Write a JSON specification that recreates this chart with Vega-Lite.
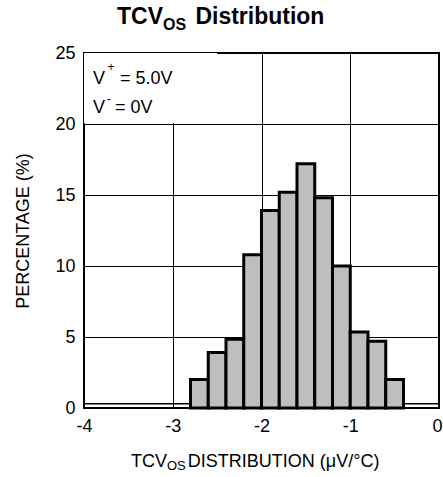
{
  "$schema": "https://vega.github.io/schema/vega-lite/v6.json",
  "width": 355,
  "height": 355,
  "autosize": {"type": "none"},
  "padding": {"left": 84, "top": 53, "right": 4, "bottom": 69},
  "background": "white",
  "config": {
    "font": "Liberation Sans",
    "view": {"stroke": "black", "strokeWidth": 2},
    "axis": {
      "grid": true,
      "gridColor": "black",
      "gridWidth": 1,
      "gridOpacity": 1,
      "domain": false,
      "ticks": false,
      "tickSize": 0,
      "labelFont": "Liberation Sans",
      "labelFontSize": 18,
      "labelColor": "black",
      "titleFont": "Liberation Sans",
      "titleFontSize": 18,
      "titleFontWeight": "normal",
      "titleColor": "black"
    }
  },
  "datasets": {
    "bins": [
      {"start": -2.8, "end": -2.6, "pct": 2.0},
      {"start": -2.6, "end": -2.4, "pct": 3.9},
      {"start": -2.4, "end": -2.2, "pct": 4.85},
      {"start": -2.2, "end": -2.0, "pct": 10.8},
      {"start": -2.0, "end": -1.8, "pct": 13.9},
      {"start": -1.8, "end": -1.6, "pct": 15.2},
      {"start": -1.6, "end": -1.4, "pct": 17.2},
      {"start": -1.4, "end": -1.2, "pct": 14.8},
      {"start": -1.2, "end": -1.0, "pct": 10.0},
      {"start": -1.0, "end": -0.8, "pct": 5.35},
      {"start": -0.8, "end": -0.6, "pct": 4.7},
      {"start": -0.6, "end": -0.4, "pct": 2.0}
    ],
    "one": [{}]
  },
  "layer": [
    {
      "data": {"name": "one"},
      "mark": {"type": "rect", "fill": "white", "stroke": null},
      "encoding": {
        "x": {"datum": -4, "type": "quantitative", "scale": {"domain": [-4, 0], "nice": false}},
        "x2": {"datum": -2.5},
        "y": {"datum": 20.06, "type": "quantitative", "scale": {"domain": [0, 25], "nice": false}},
        "y2": {"datum": 25}
      }
    },
    {
      "data": {"name": "one"},
      "mark": {"type": "rule", "color": "black", "strokeWidth": 1.3},
      "encoding": {"y": {"datum": 0.3, "type": "quantitative"}}
    },
    {
      "data": {"name": "bins"},
      "mark": {"type": "rect", "fill": "#bebebe", "stroke": "black", "strokeWidth": 3},
      "encoding": {
        "x": {
          "field": "start",
          "type": "quantitative",
          "scale": {"domain": [-4, 0], "nice": false, "zero": false},
          "axis": {"values": [-4, -3, -2, -1, 0], "title": null, "labelPadding": 9, "labelFlush": false, "labelExpr": "'' + datum.value", "labelOffset": {"expr": "datum.value == 0 ? -2 : 0"}}
        },
        "x2": {"field": "end"},
        "y": {
          "field": "pct",
          "type": "quantitative",
          "scale": {"domain": [0, 25], "nice": false},
          "axis": {"values": [0, 5, 10, 15, 20, 25], "title": "PERCENTAGE (%)", "labelPadding": 9, "titlePadding": 22}
        },
        "y2": {"datum": 0}
      }
    },
    {
      "data": {"name": "one"},
      "mark": {"type": "text", "align": "right", "baseline": "alphabetic", "fontSize": 18, "color": "black"},
      "encoding": {"x": {"datum": -3.065}, "y": {"datum": -4.155}, "text": {"value": "TCV"}}
    },
    {
      "data": {"name": "one"},
      "mark": {"type": "text", "align": "left", "baseline": "alphabetic", "fontSize": 13, "color": "black"},
      "encoding": {"x": {"datum": -3.065}, "y": {"datum": -4.366}, "text": {"value": "OS"}}
    },
    {
      "data": {"name": "one"},
      "mark": {"type": "text", "align": "left", "baseline": "alphabetic", "fontSize": 18, "color": "black"},
      "encoding": {"x": {"datum": -2.83}, "y": {"datum": -4.155}, "text": {"value": "DISTRIBUTION (μV/°C)"}}
    },
    {
      "data": {"name": "one"},
      "mark": {"type": "text", "align": "left", "baseline": "alphabetic", "fontSize": 18, "color": "black"},
      "encoding": {"x": {"datum": -3.899}, "y": {"datum": 22.82}, "text": {"value": "V"}}
    },
    {
      "data": {"name": "one"},
      "mark": {"type": "text", "align": "left", "baseline": "alphabetic", "fontSize": 12, "color": "black"},
      "encoding": {"x": {"datum": -3.735}, "y": {"datum": 23.7}, "text": {"value": "+"}}
    },
    {
      "data": {"name": "one"},
      "mark": {"type": "text", "align": "left", "baseline": "alphabetic", "fontSize": 18, "color": "black"},
      "encoding": {"x": {"datum": -3.594}, "y": {"datum": 22.82}, "text": {"value": "= 5.0V"}}
    },
    {
      "data": {"name": "one"},
      "mark": {"type": "text", "align": "left", "baseline": "alphabetic", "fontSize": 18, "color": "black"},
      "encoding": {"x": {"datum": -3.899}, "y": {"datum": 20.77}, "text": {"value": "V"}}
    },
    {
      "data": {"name": "one"},
      "mark": {"type": "text", "align": "left", "baseline": "alphabetic", "fontSize": 12, "color": "black"},
      "encoding": {"x": {"datum": -3.741}, "y": {"datum": 21.5}, "text": {"value": "-"}}
    },
    {
      "data": {"name": "one"},
      "mark": {"type": "text", "align": "left", "baseline": "alphabetic", "fontSize": 18, "color": "black"},
      "encoding": {"x": {"datum": -3.651}, "y": {"datum": 20.77}, "text": {"value": "= 0V"}}
    },
    {
      "data": {"name": "one"},
      "mark": {"type": "text", "align": "right", "baseline": "alphabetic", "fontSize": 23, "fontWeight": "bold", "color": "black"},
      "encoding": {"x": {"datum": -3.11}, "y": {"datum": 27.04}, "text": {"value": "TCV"}}
    },
    {
      "data": {"name": "one"},
      "mark": {"type": "text", "align": "left", "baseline": "alphabetic", "fontSize": 16, "fontWeight": "bold", "color": "black"},
      "encoding": {"x": {"datum": -3.11}, "y": {"datum": 26.62}, "text": {"value": "OS"}}
    },
    {
      "data": {"name": "one"},
      "mark": {"type": "text", "align": "left", "baseline": "alphabetic", "fontSize": 23, "fontWeight": "bold", "color": "black"},
      "encoding": {"x": {"datum": -2.745}, "y": {"datum": 27.04}, "text": {"value": "Distribution"}}
    }
  ]
}
